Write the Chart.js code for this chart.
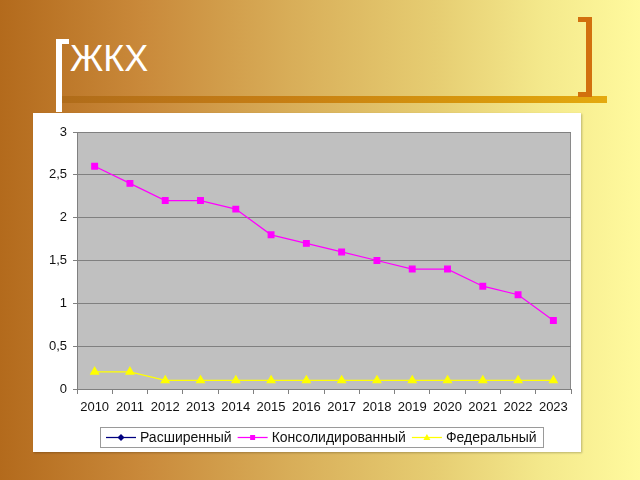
<!DOCTYPE html>
<html><head><meta charset="utf-8">
<script src="https://cdn.jsdelivr.net/npm/chart.js@4/dist/chart.umd.min.js"></script>
<style>
html,body{margin:0;padding:0;width:640px;height:480px;overflow:hidden}
#bg{position:absolute;left:0;top:0;width:640px;height:480px;background:linear-gradient(to right,#b36a1c 0%,#c9893a 22%,#d8ad58 45%,#e6cd72 68%,#f4e98c 85%,#fffa9e 100%)}
#title{position:absolute;left:70px;top:37px;font-family:"Liberation Sans",Arial,sans-serif;font-size:36px;color:#fff;line-height:44px}
.lb{position:absolute;background:#fff}
.rb{position:absolute;background:#d2700e}
#bar{position:absolute;left:62px;top:96px;width:545px;height:7px;background:linear-gradient(to right,#b06c1a,#c67e14 40%,#d99a0c 80%,#e4aa10)}
#panel{position:absolute;left:33px;top:113px;width:548px;height:339px;background:#fff;box-shadow:1px 1px 2px rgba(0,0,0,0.25)}
canvas{position:absolute;left:0;top:0}
</style></head>
<body>
<div id="bg"></div>
<div id="bar"></div>
<div class="lb" style="left:56px;top:39px;width:6px;height:73px"></div>
<div class="lb" style="left:56px;top:39px;width:13px;height:5px"></div>
<div id="title">ЖКХ</div>
<div class="rb" style="left:586px;top:17px;width:6px;height:80px"></div>
<div class="rb" style="left:578px;top:17px;width:14px;height:5px"></div>
<div class="rb" style="left:578px;top:92px;width:14px;height:5px"></div>
<div id="panel"><canvas id="c" width="548" height="339"></canvas></div>
<script>
const years = ['2010','2011','2012','2013','2014','2015','2016','2017','2018','2019','2020','2021','2022','2023'];
const seriesNames = ['Расширенный','Консолидированный','Федеральный'];
const rasshirenny = [];
const konsolidirovanny = [2.6,2.4,2.2,2.2,2.1,1.8,1.7,1.6,1.5,1.4,1.4,1.2,1.1,0.8];
const federalny = [0.2,0.2,0.1,0.1,0.1,0.1,0.1,0.1,0.1,0.1,0.1,0.1,0.1,0.1];

const FONT = '"Liberation Sans", Arial, sans-serif';

function marker(ctx, style, x, y, r, color){
  ctx.fillStyle = color;
  ctx.beginPath();
  if (style === 'rect') {
    ctx.rect(x - r, y - r, 2*r, 2*r);
  } else if (style === 'rectRot') {
    ctx.moveTo(x, y - r - 1); ctx.lineTo(x + r + 1, y); ctx.lineTo(x, y + r + 1); ctx.lineTo(x - r - 1, y); ctx.closePath();
  } else {
    ctx.moveTo(x, y - r - 1); ctx.lineTo(x + r + 1, y + r); ctx.lineTo(x - r - 1, y + r); ctx.closePath();
  }
  ctx.fill();
}

const plotBg = {
  id:'plotBg',
  beforeDraw(chart){
    const {ctx, chartArea:a} = chart;
    ctx.save();
    ctx.fillStyle = '#c0c0c0';
    ctx.fillRect(a.left, a.top, a.right-a.left, a.bottom-a.top);
    ctx.strokeStyle = '#8a8a8a';
    ctx.lineWidth = 1;
    ctx.strokeRect(a.left+0.5, a.top+0.5, a.right-a.left-1, a.bottom-a.top);
    ctx.restore();
  },
  afterDraw(chart){
    const {ctx, chartArea:a} = chart;
    const ds = chart.data.datasets;
    ctx.save();
    ctx.font = '14px ' + FONT;
    const lineLen = 30, gapText = 4, gapItem = 6, padX = 6;
    const widths = ds.map(d => lineLen + gapText + ctx.measureText(d.label).width);
    const total = widths.reduce((s,w)=>s+w,0) + gapItem*(ds.length-1) + padX*2;
    const cx = (a.left + a.right)/2 - 3;
    const left = Math.round(cx - total/2);
    const top = a.bottom + 38, h = 20;
    ctx.strokeStyle = '#9a9a9a';
    ctx.lineWidth = 1;
    ctx.strokeRect(left + 0.5, top + 0.5, Math.round(total), h);
    let x = left + padX;
    const yc = top + h/2 + 0.5;
    ds.forEach((d,i)=>{
      ctx.strokeStyle = d.borderColor;
      ctx.lineWidth = 1.25;
      ctx.beginPath(); ctx.moveTo(x, yc); ctx.lineTo(x + lineLen, yc); ctx.stroke();
      marker(ctx, d.pointStyle, x + lineLen/2, yc, 2.5, d.borderColor);
      ctx.fillStyle = '#111';
      ctx.textBaseline = 'middle';
      ctx.textAlign = 'left';
      ctx.fillText(d.label, x + lineLen + gapText, yc + 1);
      x += widths[i] + gapItem;
    });
    ctx.restore();
  }
};

new Chart(document.getElementById('c'), {
  type:'line',
  data:{
    labels: years,
    datasets:[
      {label:seriesNames[0], data:rasshirenny, borderColor:'#000080', backgroundColor:'#000080', pointStyle:'rectRot', pointRadius:4, borderWidth:1.25},
      {label:seriesNames[1], data:konsolidirovanny, borderColor:'#ff00ff', backgroundColor:'#ff00ff', pointStyle:'rect', pointRadius:4, borderWidth:1.25},
      {label:seriesNames[2], data:federalny, borderColor:'#ffff00', backgroundColor:'#ffff00', pointStyle:'triangle', pointRadius:4.5, borderWidth:1.25}
    ]
  },
  options:{
    responsive:false,
    animation:false,
    layout:{padding:{top:19,right:10,left:0,bottom:28}},
    plugins:{
      tooltip:{enabled:false},
      legend:{display:false}
    },
    scales:{
      x:{
        offset:true,
        grid:{offset:true, drawOnChartArea:false, drawTicks:true, tickLength:5, color:'#808080'},
        border:{color:'#808080'},
        ticks:{color:'#111', font:{family:FONT,size:13}, maxRotation:0, autoSkip:false, padding:6},
        afterFit(s){ s.height = 35; }
      },
      y:{
        min:0, max:3,
        grid:{color:'#808080', tickLength:4},
        border:{color:'#808080'},
        ticks:{stepSize:0.5, color:'#111', font:{family:FONT,size:13}, padding:6,
          callback:v=>String(v).replace('.',',')},
        afterFit(s){ s.width = 44; }
      }
    }
  },
  plugins:[plotBg]
});
</script>
</body></html>
